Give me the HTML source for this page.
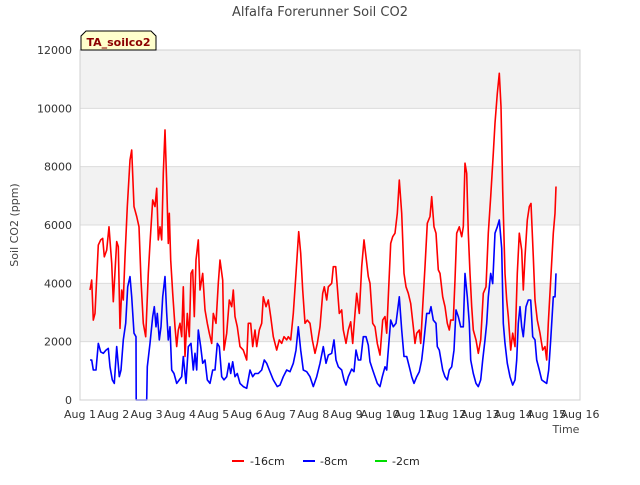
<!DOCTYPE html>
<html><head><meta charset="utf-8"><style>
body{margin:0;background:#fff;font-family:"Liberation Sans","DejaVu Sans",sans-serif;}
svg text{font-family:"DejaVu Sans","Liberation Sans",sans-serif;}
</style></head><body>
<svg id="chart" width="640" height="480" xmlns="http://www.w3.org/2000/svg">
<text x="320" y="16" text-anchor="middle" font-size="13" fill="#444">Alfalfa Forerunner Soil CO2</text>
<g id="bands"></g>
<g id="grid"></g>
<g id="series"></g>
<g id="axes"></g>
<text transform="translate(18,225) rotate(-90)" text-anchor="middle" font-size="11" fill="#444">Soil CO2 (ppm)</text>
<text x="566" y="433" text-anchor="middle" font-size="11" fill="#444">Time</text>
<g>
<path d="M81,50 L81,36 L86,31 L151,31 L156,36 L156,50 Z" fill="#ffffcc" stroke="#000" stroke-width="1"/>
<text x="118.5" y="46" text-anchor="middle" font-size="11" font-weight="bold" fill="#8b0000">TA_soilco2</text>
</g>
<g>
<g><line x1="232" y1="461" x2="244" y2="461" stroke="#ff0000" stroke-width="2"/><text x="250" y="465" font-size="11" fill="#222">-16cm</text></g>
<g><line x1="303" y1="461" x2="315" y2="461" stroke="#0000ff" stroke-width="2"/><text x="320" y="465" font-size="11" fill="#222">-8cm</text></g>
<g><line x1="375" y1="461" x2="387" y2="461" stroke="#00dd00" stroke-width="2"/><text x="392" y="465" font-size="11" fill="#222">-2cm</text></g>
</g>
</svg>
<script>
const xTickLabels = ["Aug 1","Aug 2","Aug 3","Aug 4","Aug 5","Aug 6","Aug 7","Aug 8","Aug 9","Aug 10","Aug 11","Aug 12","Aug 13","Aug 14","Aug 15","Aug 16"];
const yTickValues = [0,2000,4000,6000,8000,10000,12000];
const redDays = [0.3,0.35,0.4,0.45,0.55,0.62,0.68,0.73,0.8,0.87,0.95,1.0,1.1,1.15,1.2,1.25,1.3,1.35,1.42,1.5,1.55,1.62,1.7,1.77,1.83,1.9,1.97,2.05,2.1,2.18,2.25,2.3,2.35,2.4,2.45,2.5,2.55,2.6,2.65,2.68,2.72,2.78,2.85,2.9,2.95,3.0,3.05,3.1,3.15,3.22,3.28,3.33,3.38,3.43,3.48,3.55,3.6,3.68,3.75,3.82,3.88,3.95,4.0,4.08,4.15,4.2,4.28,4.32,4.4,4.48,4.55,4.6,4.65,4.72,4.8,4.9,5.0,5.05,5.12,5.18,5.25,5.3,5.38,5.45,5.5,5.58,5.65,5.72,5.8,5.9,5.98,6.05,6.12,6.2,6.25,6.32,6.4,6.48,6.56,6.62,6.68,6.75,6.82,6.9,6.97,7.05,7.12,7.2,7.28,7.33,7.4,7.45,7.55,7.6,7.67,7.72,7.78,7.85,7.9,7.98,8.05,8.12,8.18,8.25,8.3,8.38,8.45,8.52,8.58,8.65,8.7,8.78,8.85,8.92,9.0,9.08,9.15,9.2,9.25,9.32,9.38,9.45,9.52,9.58,9.65,9.72,9.78,9.85,9.92,10.0,10.05,10.1,10.18,10.22,10.28,10.35,10.42,10.5,10.55,10.62,10.68,10.75,10.8,10.88,10.95,11.02,11.08,11.12,11.2,11.25,11.3,11.38,11.45,11.5,11.55,11.6,11.65,11.7,11.75,11.8,11.88,11.95,12.02,12.1,12.18,12.25,12.32,12.4,12.45,12.52,12.58,12.63,12.68,12.75,12.8,12.85,12.92,12.98,13.05,13.12,13.18,13.25,13.3,13.35,13.42,13.48,13.53,13.6,13.65,13.72,13.8,13.88,13.95,14.0,14.05,14.12,14.2,14.25,14.28];
const redVals = [3770,4110,2740,2970,5310,5490,5540,4910,5140,5940,4690,3370,5430,5260,2460,3770,3430,4910,6630,8230,8570,6630,6290,5940,4110,2630,2170,4340,5370,6860,6630,7260,5490,5940,5490,7770,9260,7430,5370,6400,4800,3660,2510,1830,2400,2630,2170,3880,1490,2970,2170,4340,4460,2860,4800,5490,3770,4340,3090,2630,2290,1940,2970,2630,4000,4800,4110,1710,2290,3430,3200,3770,2860,2510,1830,1710,1370,2630,2630,1830,2400,1830,2400,2630,3540,3200,3430,2860,2170,1710,2060,1940,2170,2060,2170,2060,2970,4340,5770,5030,3770,2630,2740,2630,2060,1600,1940,2510,3660,3880,3430,3880,4000,4570,4570,3880,2970,3090,2400,1940,2400,2680,1940,2970,3660,2970,4570,5490,4910,4230,4000,2630,2510,1940,1540,2740,2860,2290,3540,5370,5600,5720,6400,7540,6400,4340,3880,3660,3310,2510,1940,2290,2400,1940,3200,4570,6060,6290,6970,5940,5720,4460,4340,3540,3200,2630,2400,2740,2740,4110,5720,5940,5600,5940,8120,7770,5720,4340,3200,2400,2060,1600,2060,3660,3880,5720,6970,8460,9490,10510,11200,10060,7200,4340,3430,2860,1710,2290,1830,4340,5720,5140,3770,4910,6170,6630,6740,4910,3430,2740,2290,1710,1830,1370,2630,4110,5720,6400,7320];
const blueDays = [0.3,0.35,0.4,0.48,0.55,0.62,0.7,0.78,0.85,0.9,0.97,1.03,1.1,1.18,1.23,1.3,1.37,1.43,1.5,1.55,1.62,1.68,1.685,2.0,2.02,2.1,2.18,2.23,2.28,2.32,2.38,2.43,2.48,2.55,2.6,2.65,2.7,2.75,2.82,2.9,2.98,3.05,3.1,3.18,3.25,3.33,3.4,3.45,3.5,3.55,3.62,3.68,3.75,3.82,3.9,3.98,4.05,4.12,4.18,4.25,4.32,4.4,4.47,4.52,4.58,4.65,4.72,4.8,4.9,5.0,5.1,5.18,5.25,5.35,5.45,5.53,5.6,5.68,5.8,5.92,6.0,6.1,6.2,6.3,6.4,6.48,6.55,6.62,6.7,6.8,6.9,7.0,7.1,7.2,7.3,7.38,7.45,7.55,7.62,7.68,7.75,7.85,7.92,7.98,8.05,8.15,8.22,8.28,8.35,8.42,8.5,8.58,8.65,8.7,8.78,8.85,8.92,9.0,9.07,9.15,9.2,9.25,9.32,9.4,9.48,9.58,9.65,9.72,9.8,9.88,9.95,10.02,10.1,10.18,10.25,10.32,10.4,10.48,10.53,10.6,10.68,10.72,10.78,10.88,10.95,11.02,11.08,11.15,11.22,11.28,11.35,11.42,11.5,11.55,11.62,11.68,11.72,11.8,11.88,11.95,12.02,12.08,12.15,12.2,12.25,12.32,12.38,12.45,12.52,12.58,12.65,12.7,12.75,12.82,12.9,12.98,13.05,13.1,13.15,13.2,13.25,13.3,13.38,13.45,13.52,13.58,13.65,13.7,13.78,13.85,13.92,14.0,14.06,14.12,14.2,14.25,14.28];
const blueVals = [1370,1370,1030,1030,1940,1650,1600,1710,1770,1140,690,570,1830,800,1030,2060,2630,3880,4230,3540,2290,2170,0,0,1140,1940,2860,3200,2510,2970,2060,2510,3540,4230,2970,2060,2510,1030,910,570,690,800,1490,570,1830,1940,1030,1600,1030,2400,1830,1260,1370,690,570,1030,1030,1940,1830,800,690,800,1260,910,1310,800,910,570,460,400,1030,800,910,910,1030,1370,1260,1030,690,460,510,800,1030,970,1260,1710,2510,1710,1030,970,800,460,800,1260,1830,1260,1540,1600,2060,1370,1140,1030,690,510,800,1060,970,1710,1370,1370,2170,2170,1880,1310,1030,800,570,460,800,1140,1030,1710,2740,2510,2630,3540,2400,1490,1490,1140,800,570,800,970,1370,2060,2970,2970,3200,2740,2630,1830,1710,1030,800,690,1030,1140,1710,3090,2860,2510,2510,4340,3540,2630,1370,910,570,460,690,1370,2060,2630,3540,4340,3990,5720,5940,6170,5200,2630,1940,1260,800,510,690,1370,2630,3200,2510,2170,3200,3430,3430,2170,2060,1370,1030,690,630,570,1030,2060,3540,3540,4340];
const greenDays = [0.3,14.28];
const greenVals = [0,0];

const NS="http://www.w3.org/2000/svg";
const L=80,R=580,T=50,B=400,xMin=0,xMax=15,yMax=12000;
function xs(d){return L+(d-xMin)/(xMax-xMin)*(R-L);}
function ys(v){return B-v/yMax*(B-T);}
function mk(tag,attrs,parent){const e=document.createElementNS(NS,tag);for(const k in attrs)e.setAttribute(k,attrs[k]);parent.appendChild(e);return e;}
const bands=document.getElementById('bands'),grid=document.getElementById('grid'),axes=document.getElementById('axes'),series=document.getElementById('series');
mk('rect',{x:L,y:T,width:R-L,height:B-T,fill:'#ffffff'},bands);
for(let i=0;i<yTickValues.length-1;i++){
  if(i%2===1){const r=mk('rect',{x:L,y:ys(yTickValues[i+1]),width:R-L,height:ys(yTickValues[i])-ys(yTickValues[i+1]),fill:'#f2f2f2'},bands);
  
  }
}
yTickValues.forEach(v=>{
  const g=mk('line',{x1:L,x2:R,y1:ys(v),y2:ys(v),stroke:'#dcdcdc','stroke-width':1},grid);
  
  
  const t=mk('text',{x:L-8,y:ys(v)+4,'text-anchor':'end','font-size':11,fill:'#333'},axes);
  t.textContent=v;
  
  
});
mk('rect',{x:L,y:T,width:R-L,height:B-T,fill:'none',stroke:'#d0d0d0'},axes);
xTickLabels.forEach((lab,i)=>{
  const t=mk('text',{x:xs(i),y:B+18,'text-anchor':'middle','font-size':11,fill:'#333'},axes);
  t.textContent=lab;
  
  
});
function line(days,vals,color,name,w){
  const d=days.map((x,i)=>(i?'L':'M')+xs(x).toFixed(1)+','+ys(vals[i]).toFixed(1)).join('');
  const p=mk('path',{d:d,fill:'none',stroke:color,'stroke-width':w,'stroke-linejoin':'round'},series);
  
  
}
line(greenDays,greenVals,'#00cc00','series-2cm',1);
line(blueDays,blueVals,'#0000ff','series-8cm',1.6);
line(redDays,redVals,'#ff0000','series-16cm',1.6);
</script>
</body></html>
